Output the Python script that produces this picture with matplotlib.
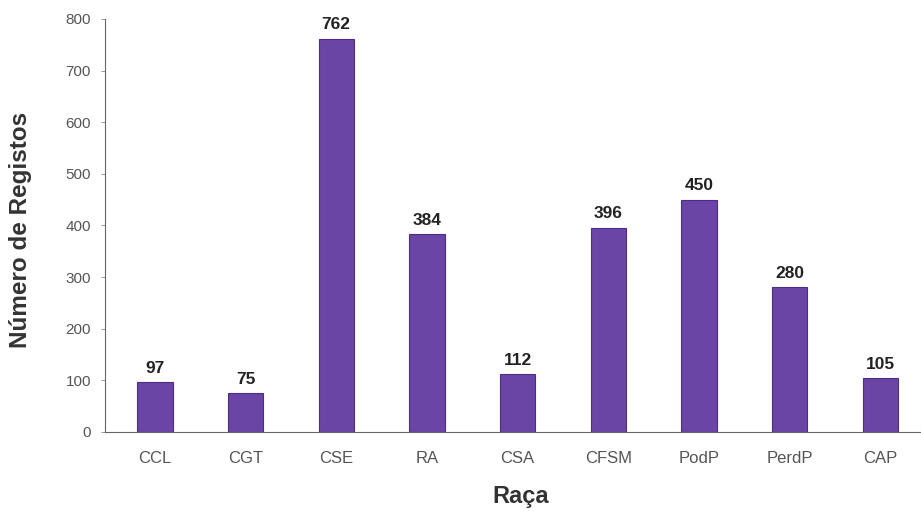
import matplotlib
matplotlib.use("Agg")
import matplotlib.pyplot as plt

categories = ["CCL", "CGT", "CSE", "RA", "CSA", "CFSM", "PodP", "PerdP", "CAP"]
values = [97, 75, 762, 384, 112, 396, 450, 280, 105]
yticks = [0, 100, 200, 300, 400, 500, 600, 700, 800]

plt.rcParams['font.family'] = ['Liberation Sans', 'DejaVu Sans']

fig = plt.figure(figsize=(9.21, 5.13), dpi=100)
ax = fig.add_axes([0.114, 0.158, 0.886, 0.805])

x = list(range(len(categories)))
ax.bar(x, values, width=0.39, color="#6a45a6", edgecolor="#4b2d86", linewidth=0.8)
for xi, v in zip(x, values):
    ax.text(xi, v + 12, str(v), ha="center", va="bottom", fontsize=12.5,
            fontweight="bold", color="#222222")

ax.set_xlim(-0.55, 8.45)
ax.set_ylim(0, 800)
ax.set_yticks(yticks)
ax.set_yticklabels([str(t) for t in yticks], fontsize=11, color="#555555")
ax.set_xticks(x)
ax.set_xticklabels(categories, fontsize=12, color="#555555")
ax.tick_params(axis="x", length=0, pad=14)
ax.tick_params(axis="y", length=3, width=0.6, color="#888888", pad=7)

for s in ["top", "right"]:
    ax.spines[s].set_visible(False)
ax.spines["left"].set_color("#666666")
ax.spines["bottom"].set_color("#666666")
ax.spines["left"].set_linewidth(0.8)
ax.spines["bottom"].set_linewidth(0.8)

ax.set_ylabel("Número de Registos", fontsize=17.5, fontweight="bold", color="#333333")
ax.set_xlabel("Raça", fontsize=17, fontweight="bold", color="#333333")
ax.yaxis.set_label_coords(-0.089, 0.49)
ax.xaxis.set_label_coords(0.509, -0.128)

fig.savefig("out.png", dpi=100, facecolor="white")
